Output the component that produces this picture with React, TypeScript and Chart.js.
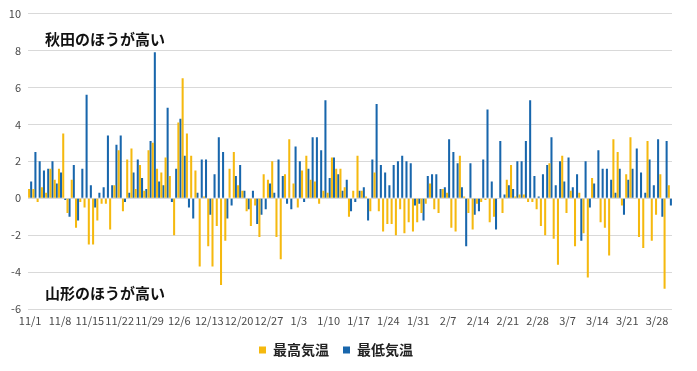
import React, { useEffect, useRef } from "react";
import { Chart, registerables } from "chart.js";
Chart.register(...registerables);

// Season: 11/1 .. 3/31
const MONTHS = [11, 12, 1, 2, 3];
const MONTH_DAYS = [30, 31, 31, 28, 31];
const DATES: string[] = [];
MONTHS.forEach((m, i) => {
  for (let d = 1; d <= MONTH_DAYS[i]; d++) DATES.push(`${m}/${d}`);
});

const TICK_LABELS = [
  "11/1", "11/8", "11/15", "11/22", "11/29", "12/6", "12/13", "12/20", "12/27",
  "1/3", "1/10", "1/17", "1/24", "1/31", "2/7", "2/14", "2/21", "2/28",
  "3/7", "3/14", "3/21", "3/28",
];

const SERIES_MAX_LABEL = "最高気温";
const SERIES_MIN_LABEL = "最低気温";
const NOTE_TOP = "秋田のほうが高い";
const NOTE_BOTTOM = "山形のほうが高い";

// Difference (Akita - Yamagata), daily max temperature
const MAX_DIFF = [
  0.5, 0.5, -0.2, 0.6, 0.3, 1.6, 1.0, 1.6, 3.5, -0.8,
  1.0, -1.6, -0.2, -0.5, -2.5, -2.5, -1.2, -0.3, -0.3, -1.7,
  0.7, 2.6, -0.7, 2.1, 2.7, 0.5, 1.8, 0.4, 2.6, 3.0,
  1.6, 1.4, 2.2, 1.2, -2.0, 4.1, 6.5, 3.5, 2.3, 1.5,
  -3.7, 0.1, -2.6, -3.7, -1.5, -4.7, -2.3, 1.6, 2.5, 0.7,
  0.4, -0.7, -1.5, -0.4, -2.1, 1.3, 1.0, 2.0, -2.1, -3.3,
  1.3, 3.2, 0.8, -0.5, 1.5, 2.3, 1.0, 0.9, -0.3, 0.4,
  0.3, 2.2, 1.6, 1.6, 0.6, -1.0, 0.4, 2.3, 0.4, 0.1,
  -0.7, 1.4, -0.7, -1.8, -1.4, -1.4, -2.0, -0.6, -1.9, -1.3,
  -1.8, -1.3, -0.8, -0.3, 0.8, -0.6, -0.8, 0.5, 0.3, -1.6,
  -1.8, 2.3, 0.1, -0.8, -1.7, -0.3, -0.2, -0.1, -1.3, -1.0,
  0.0, -0.8, 1.0, 1.8, 0.1, 0.2, 0.2, -0.2, -0.2, -0.6,
  -1.5, -2.0, 1.9, -2.2, -3.6, 2.3, -0.8, 0.4, -2.6, 0.3,
  -1.9, -4.3, 1.1, 0.0, -1.3, -1.6, -3.1, 3.2, 2.5, -0.4,
  1.3, 3.3, 0.0, -2.1, -2.7, 3.1, -2.3, -0.9, 1.3, -4.9, 0.7,
];

// Difference (Akita - Yamagata), daily min temperature
const MIN_DIFF = [
  0.9, 2.5, 2.0, 1.5, 1.6, 2.0, 0.8, 1.4, -0.1, -1.0,
  1.8, -1.2, 1.6, 5.6, 0.7, -0.5, 0.3, 0.6, 3.4, 0.7,
  2.9, 3.4, -0.2, 0.3, 1.4, 2.1, 1.1, 0.5, 3.1, 7.9,
  0.9, 0.7, 4.9, -0.2, 1.6, 4.3, 2.3, -0.5, -1.1, 0.3,
  2.1, 2.1, -0.9, 1.3, 3.3, 2.5, -1.1, -0.4, 1.2, 1.8,
  0.4, -0.6, 0.4, -1.4, -0.9, -0.6, 0.8, 0.3, 2.1, 1.2,
  -0.3, -0.6, 2.8, 2.0, -0.2, 1.6, 3.3, 3.3, 2.6, 5.3,
  1.1, 2.2, 1.3, 0.4, 1.0, -0.7, -0.2, 0.4, 0.6, -1.2,
  2.1, 5.1, 1.8, 1.4, 0.7, 1.8, 2.0, 2.3, 2.0, 1.9,
  -0.4, -0.3, -1.2, 1.2, 1.3, 1.3, 0.5, 0.6, 3.2, 2.5,
  1.9, 0.6, -2.6, 1.9, -0.9, -0.7, 2.1, 4.8, 0.9, -1.7,
  3.1, 0.2, 0.7, 0.5, 2.0, 2.0, 3.1, 5.3, 1.2, 0.1,
  1.3, 1.8, 3.3, 0.7, 2.0, 0.9, 2.2, 0.6, 1.3, -2.3,
  2.0, -0.5, 0.8, 2.6, 1.6, 1.6, 1.0, 0.3, 1.6, -0.9,
  1.0, 1.6, 2.7, 1.4, 0.3, 2.1, 0.7, 3.2, -1.0, 3.1, -0.4,
];

const Y_MIN = -6;
const Y_MAX = 10;
const Y_STEP = 2;

const COLOR_MAX = "#F5B90F";
const COLOR_MIN = "#1866AC";
const FONT = '"Noto Sans CJK JP", "Noto Sans", sans-serif';

const notesPlugin = {
  id: "notes",
  afterDatasetsDraw(chart: any) {
    const { ctx, chartArea, scales } = chart;
    const y = scales.y;
    ctx.save();
    ctx.font = `bold 15px ${FONT}`;
    ctx.fillStyle = "#111";
    ctx.textBaseline = "middle";
    ctx.textAlign = "left";
    ctx.fillText(NOTE_TOP, chartArea.left + 17, y.getPixelForValue(8.6));
    ctx.fillText(NOTE_BOTTOM, chartArea.left + 17, y.getPixelForValue(-5.15));
    ctx.restore();
  },
};

export default function App() {
  const ref = useRef<HTMLCanvasElement>(null);
  useEffect(() => {
    document.body.style.margin = "0";
    const chart = new Chart(ref.current!, {
      type: "bar",
      data: {
        labels: DATES,
        datasets: [
          {
            label: SERIES_MAX_LABEL,
            data: MAX_DIFF,
            backgroundColor: COLOR_MAX,
            categoryPercentage: 0.96,
            barPercentage: 1.0,
          },
          {
            label: SERIES_MIN_LABEL,
            data: MIN_DIFF,
            backgroundColor: COLOR_MIN,
            categoryPercentage: 0.96,
            barPercentage: 1.0,
          },
        ],
      },
      options: {
        responsive: false,
        animation: false,
        layout: { padding: { top: 10, right: 25, bottom: 4, left: 0 } },
        plugins: {
          legend: {
            position: "bottom",
            labels: {
              boxWidth: 7,
              boxHeight: 7,
              padding: 14,
              color: "#222",
              font: { family: FONT, size: 14, weight: "bold" },
            },
          },
          tooltip: { enabled: false },
        },
        scales: {
          x: {
            grid: { display: false, drawTicks: false },
            border: { display: false },
            afterFit: (s: any) => {
              s.height = 20;
            },
            ticks: {
              autoSkip: false,
              maxRotation: 0,
              minRotation: 0,
              padding: 5,
              color: "#4a4a4a",
              font: { family: FONT, size: 11 },
              callback: (_v: any, i: number) =>
                TICK_LABELS.includes(DATES[i]) ? DATES[i] : "",
            },
          },
          y: {
            min: Y_MIN,
            max: Y_MAX,
            afterFit: (s: any) => {
              s.width = 28;
            },
            ticks: {
              stepSize: Y_STEP,
              padding: 7,
              color: "#4a4a4a",
              font: { family: FONT, size: 11 },
            },
            grid: { color: "#D9D9D9", drawTicks: false },
            border: { display: false },
          },
        },
      },
      plugins: [notesPlugin],
    });
    return () => chart.destroy();
  }, []);
  return (
    <div style={{ width: 697, height: 371, background: "#fff" }}>
      <canvas ref={ref} width={697} height={371} />
    </div>
  );
}
